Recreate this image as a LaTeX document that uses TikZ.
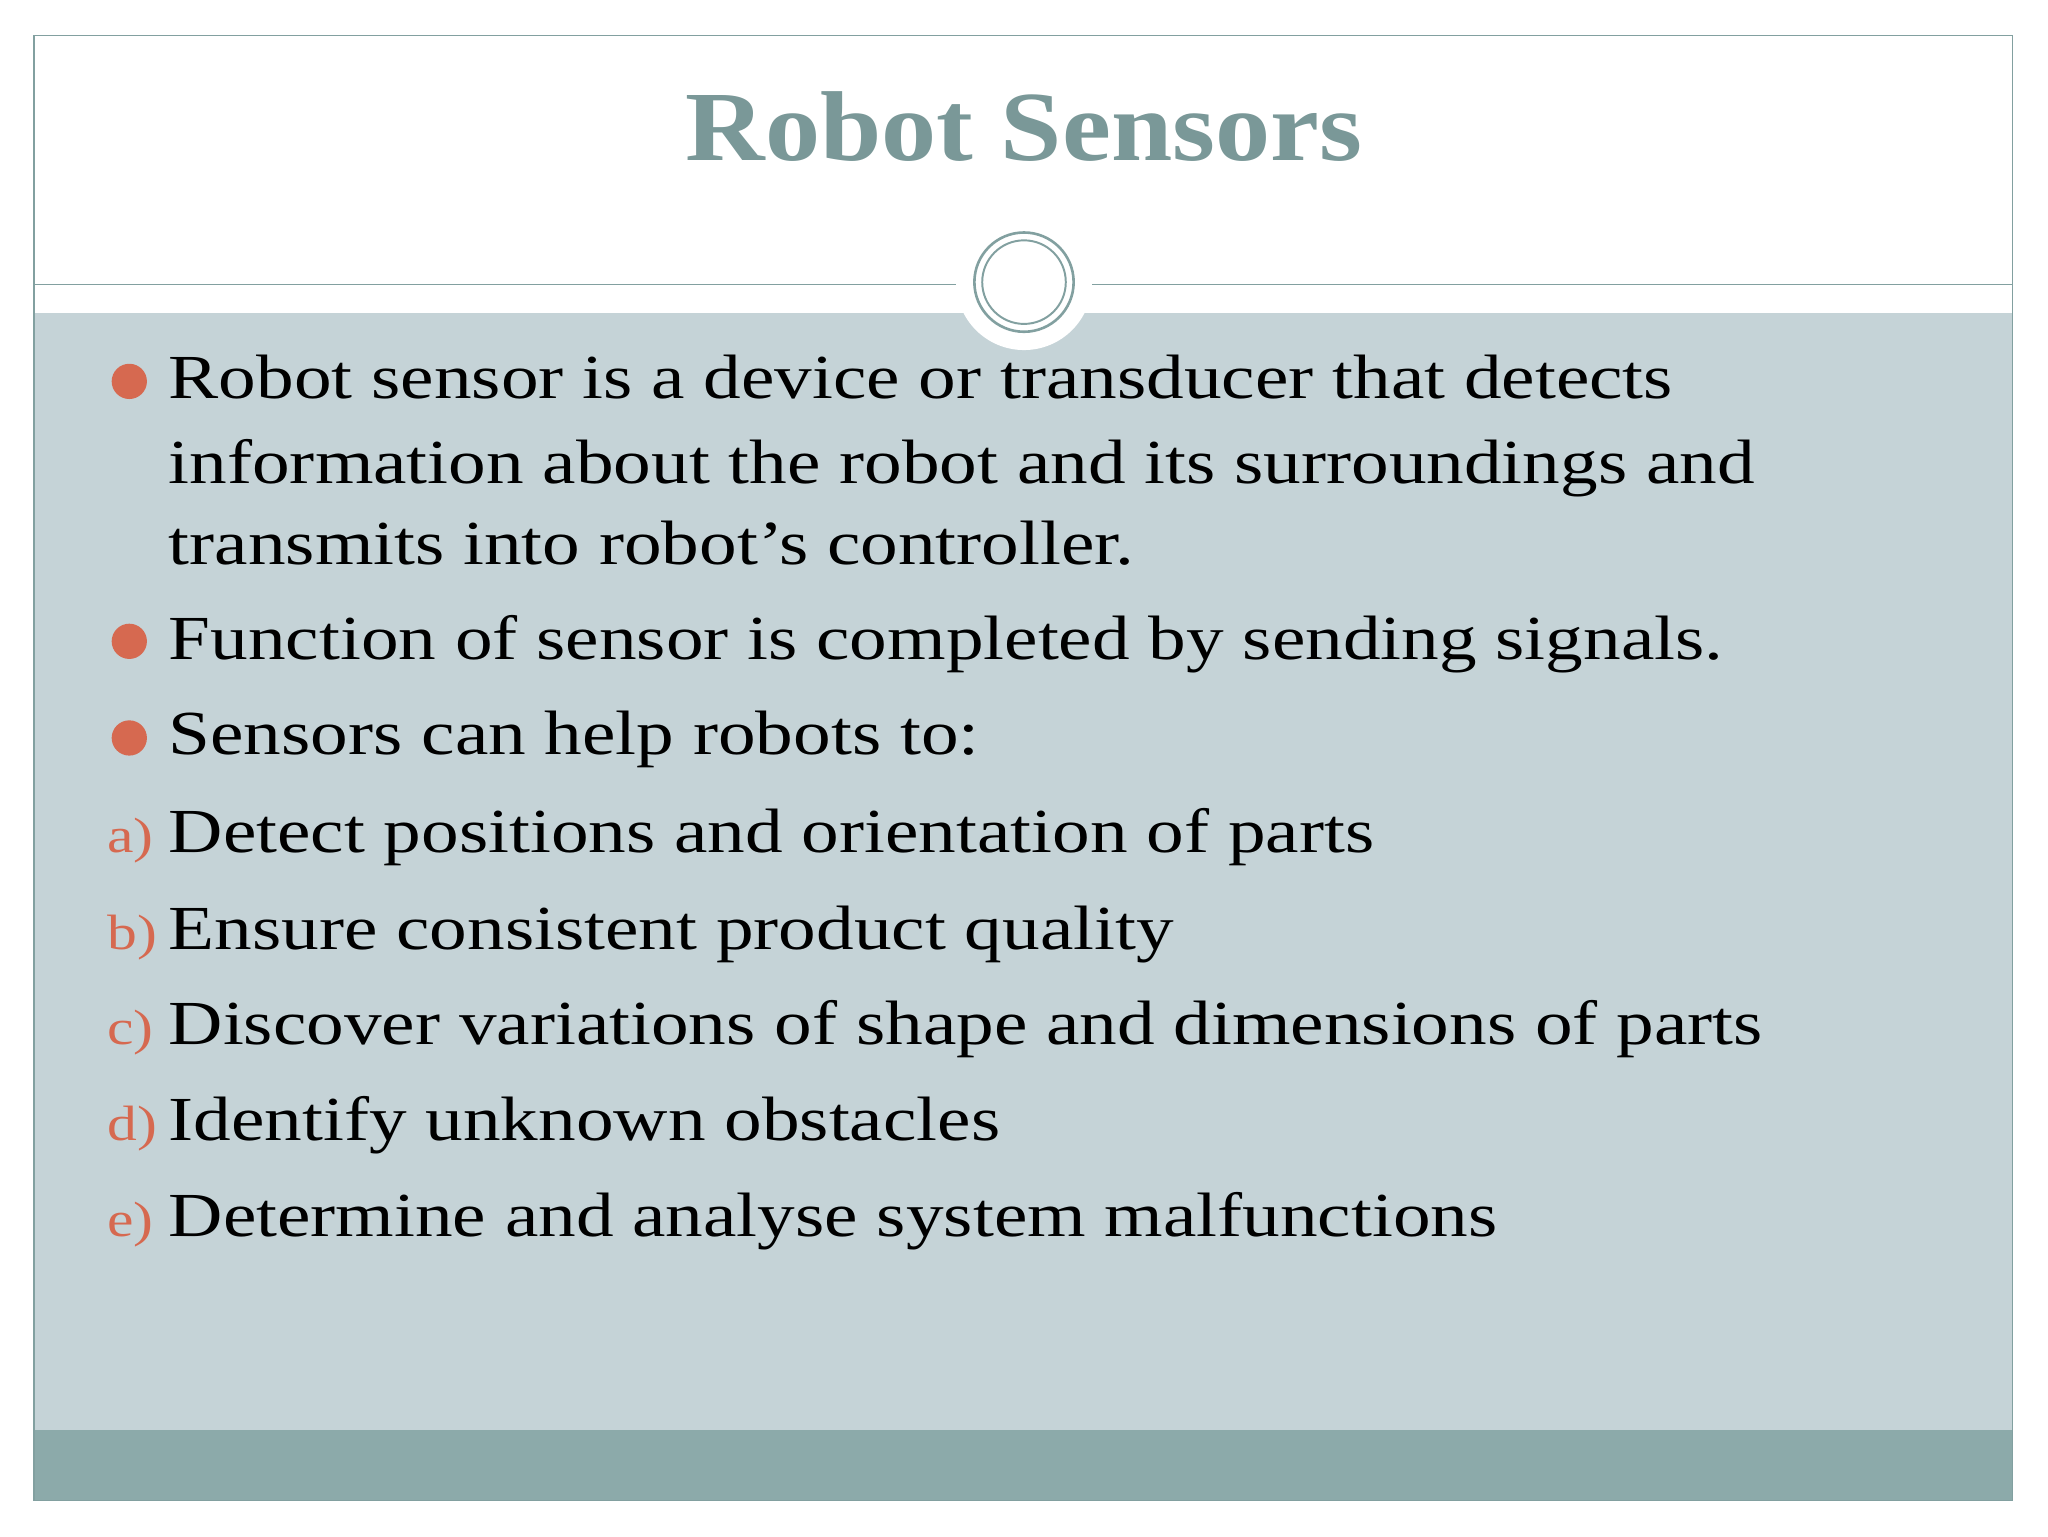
\documentclass[tikz,border=0pt]{standalone}
\usepackage{fontspec}
\setmainfont{Liberation Serif}
\newfontfamily\bodyfont[FakeStretch=1.2]{Liberation Serif}
\newfontfamily\titlefont[FakeStretch=1.11]{Liberation Serif}
\definecolor{teal}{RGB}{122,152,152}
\definecolor{bodybg}{RGB}{197,211,215}
\definecolor{barc}{RGB}{140,170,170}
\definecolor{orng}{RGB}{214,105,80}
\definecolor{linec}{RGB}{130,160,160}
\tikzset{body/.style={anchor=base west,inner sep=0pt,font=\bodyfont\fontsize{48}{58}\selectfont},
lbl/.style={anchor=base west,inner sep=0pt,text=orng,font=\bodyfont\fontsize{38}{44}\selectfont},
dot/.style={circle,fill=orng,minimum size=27pt,inner sep=0pt}}
\begin{document}
\begin{tikzpicture}[x=1pt,y=-1pt]
\useasboundingbox (0,0) rectangle (1568,1176);
\fill[white] (0,0) rectangle (1568,1176);
\fill[bodybg] (26,240) rectangle (1541,1095);
\fill[barc] (26,1095) rectangle (1541,1149);
\draw[linec,line width=1pt] (26,27) rectangle (1541,1149);
\draw[linec,line width=1pt] (26,218) -- (733,218) (836,218) -- (1541,218);
\fill[white] (784,216) circle (52);
\draw[linec,line width=2pt] (784,216) circle (38);
\draw[linec,line width=1.5pt] (784,216) circle (32);
\node[inner sep=0pt,text=teal,font=\titlefont\bfseries\fontsize{76}{80}\selectfont] (title) at (784,97) {Robot Sensors};
\node[dot] (d1) at (99,292) {};
\node[dot] (d2) at (99,491) {};
\node[dot] (d3) at (99,565) {};
\node[body] (t1) at (129,305) {Robot sensor is a device or transducer that detects};
\node[body] (t2) at (129,370) {information about the robot and its surroundings and};
\node[body] (t3) at (129,432) {transmits into robot’s controller.};
\node[body] (t4) at (129,505) {Function of sensor is completed by sending signals.};
\node[body] (t5) at (129,578) {Sensors can help robots to:};
\node[lbl] (la) at (82,653) {a)};
\node[body] (ta) at (129,653) {Detect positions and orientation of parts};
\node[lbl] (lb) at (82,727) {b)};
\node[body] (tb) at (129,727) {Ensure consistent product quality};
\node[lbl] (lc) at (82,800) {c)};
\node[body] (tc) at (129,800) {Discover variations of shape and dimensions of parts};
\node[lbl] (ld) at (82,873) {d)};
\node[body] (td) at (129,873) {Identify unknown obstacles};
\node[lbl] (le) at (82,947) {e)};
\node[body] (te) at (129,947) {Determine and analyse system malfunctions};
\end{tikzpicture}
\end{document}
